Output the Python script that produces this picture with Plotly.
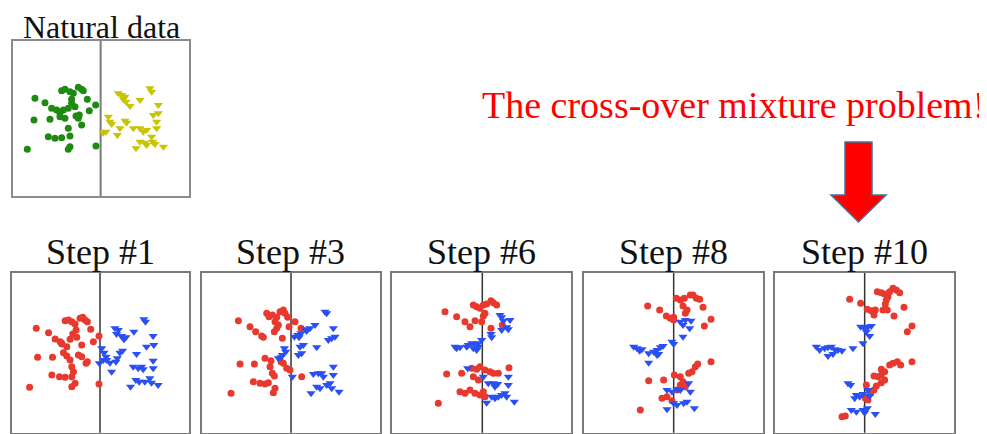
import plotly.graph_objects as go

# ---------------- data (panel units: x left->right, y top->bottom) ----------------
nat_green_x = [105,135,155,170,185,195,210,220,235,245,250,262,215,205,225,238,268,287,102,150,180,195,205,228,235,245,145,165,185,210,210,205,82,288,180,190,215]
nat_green_y = [295,308,325,330,272,268,275,280,262,268,272,298,298,325,320,345,332,315,360,358,350,355,385,348,355,375,410,415,413,408,440,448,448,438,340,330,310]
nat_yellow_x = [355,365,370,378,390,375,420,450,455,475,460,475,325,330,335,318,310,375,380,360,352,400,420,430,440,470,470,455,420,435,440,458,465,490,408]
nat_yellow_y = [280,285,298,305,318,290,300,265,275,315,345,340,350,365,372,395,398,362,368,385,405,385,385,395,390,365,385,410,425,428,435,425,432,440,445]

s1_red_x = [108,145,165,180,185,195,205,215,225,240,248,255,262,272,228,218,210,230,245,280,297,112,157,190,200,210,235,245,258,262,215,220,155,178,195,215,225,215,88,297,185,200]
s1_red_y = [295,308,327,335,342,272,270,275,282,265,262,270,275,298,300,312,328,322,345,335,318,382,382,368,378,390,375,380,400,395,410,425,435,440,442,440,460,470,472,462,340,350]
s1_blue_x = [345,355,350,365,378,372,402,432,437,460,440,462,305,312,318,310,298,360,368,352,348,330,335,410,460,400,415,425,430,460,408,418,435,450,455,475,392,320]
s1_blue_y = [295,300,312,318,322,328,305,268,275,318,350,345,355,368,380,390,400,368,362,385,395,398,425,372,392,410,415,410,418,415,450,455,455,445,458,465,470,390]

s3_red_x = [130,165,182,200,205,215,222,232,245,240,255,265,270,278,245,238,262,250,282,318,135,178,210,228,225,232,238,258,265,275,285,320,175,195,210,220,240,235,108,300]
s3_red_y = [272,290,305,318,322,250,260,255,262,275,245,240,250,262,295,305,325,285,290,295,402,402,385,392,410,430,438,395,400,415,420,440,455,460,462,458,475,488,490,275]
s3_blue_x = [390,395,360,345,330,335,308,298,312,318,415,420,400,410,325,315,365,320,310,272,262,258,250,268,415,355,370,380,385,415,292,365,375,395,405,410,432,348]
s3_blue_y = [245,250,285,295,298,303,315,320,322,310,295,320,330,325,345,350,352,370,375,365,375,382,385,355,410,432,430,430,440,435,440,470,475,465,460,475,485,490]

s6_red_x = [180,215,240,255,265,275,285,295,305,318,325,335,300,295,270,290,318,352,185,230,260,275,285,300,315,325,340,372,225,240,255,270,285,295,300,160,265,280]
s6_red_y = [245,260,275,290,225,230,235,225,222,212,218,225,250,258,272,275,295,285,432,430,415,418,410,420,425,430,430,413,485,490,480,490,495,485,500,520,440,450]
s6_blue_x = [345,350,355,375,370,365,350,318,320,290,280,270,260,250,265,275,245,215,225,210,248,295,310,325,330,338,370,370,320,330,340,350,360,365,305,388,280]
s6_blue_y = [255,262,272,270,298,292,300,312,322,330,340,345,340,345,355,360,350,355,352,350,415,440,460,460,470,462,440,465,500,505,500,495,490,500,518,515,350]

s8_red_x = [212,248,268,280,290,298,310,322,340,348,358,368,378,318,330,325,290,402,382,345,355,362,402,215,260,292,310,318,325,310,300,270,255,285,190,335]
s8_red_y = [228,240,258,265,262,205,210,205,195,195,205,208,232,228,240,250,270,268,288,425,410,402,395,452,450,435,440,455,470,465,480,500,505,512,540,430]
s8_blue_x = [170,180,188,195,215,230,240,250,258,245,215,285,290,310,318,325,342,338,318,270,285,300,310,335,340,290,300,320,330,352,270,240]
s8_blue_y = [350,355,362,358,370,365,360,352,348,372,398,335,342,275,285,270,272,295,320,480,485,478,480,460,485,520,525,520,515,535,538,375]

s10_red_x = [245,278,298,310,318,322,328,340,350,360,365,375,385,395,355,352,358,345,408,378,432,418,365,375,388,398,432,340,350,340,330,318,350,340,325,318,308,295,292,300,222,232]
s10_red_y = [208,220,238,242,255,240,185,188,192,200,185,175,180,188,210,222,240,240,232,258,288,305,405,400,395,405,395,418,425,435,440,438,450,458,468,480,490,465,505,510,560,558]
s10_blue_x = [278,290,300,310,295,305,285,145,155,170,180,190,200,210,222,180,195,255,240,248,265,275,285,305,260,250,265,285,290,298,322,300]
s10_blue_y = [290,295,290,288,305,318,340,350,360,355,352,350,358,360,362,378,372,355,460,465,495,500,492,498,505,540,545,540,548,535,552,480]

panel_titles = ["Natural data", "Step #1", "Step #3", "Step #6", "Step #8", "Step #10"]
headline = "The cross-over mixture problem!"

# ---------------- layout geometry (screen pixels) ----------------
OFF = 8                      # page body margin offset
SW, SH = 987, 434            # screen size
W, H = SW - OFF, SH - OFF    # figure size


def px(x):
    return (x - OFF) / W


def py(y):
    return 1 - (y - OFF) / H


panels = [
    dict(box=(13.3, 189.3, 40.7, 196.0), xr=[40, 568], yr=[588, 122], div=302),
    dict(box=(12.0, 189.0, 272.7, 432.7), xr=[35, 568], yr=[608, 128], div=300),
    dict(box=(201.7, 380.0, 272.7, 432.7), xr=[20, 555], yr=[608, 128], div=288),
    dict(box=(392.3, 571.0, 272.7, 432.7), xr=[22, 558], yr=[608, 128], div=292),
    dict(box=(584.3, 762.7, 272.7, 432.7), xr=[22, 557], yr=[608, 128], div=290),
    dict(box=(775.3, 954.0, 272.7, 432.7), xr=[22, 558], yr=[608, 128], div=290),
]

RED, BLUE = "#e8392e", "#2a4ff5"
series = [
    [(nat_green_x, nat_green_y, "circle", "#1f8a12", 7), (nat_yellow_x, nat_yellow_y, "triangle-down", "#c9c400", 8)],
    [(s1_red_x, s1_red_y, "circle", RED, 7), (s1_blue_x, s1_blue_y, "triangle-down", BLUE, 8)],
    [(s3_red_x, s3_red_y, "circle", RED, 7), (s3_blue_x, s3_blue_y, "triangle-down", BLUE, 8)],
    [(s6_red_x, s6_red_y, "circle", RED, 7), (s6_blue_x, s6_blue_y, "triangle-down", BLUE, 8)],
    [(s8_red_x, s8_red_y, "circle", RED, 7), (s8_blue_x, s8_blue_y, "triangle-down", BLUE, 8)],
    [(s10_red_x, s10_red_y, "circle", RED, 7), (s10_blue_x, s10_blue_y, "triangle-down", BLUE, 8)],
]

fig = go.Figure()
layout = {}
shapes = []
annotations = []

for i, (p, sers) in enumerate(zip(panels, series)):
    n = "" if i == 0 else str(i + 1)
    xa, ya = "x" + n, "y" + n
    l, r, t, b = p["box"]
    natural = (i == 0)
    lc = "#8c8c8c" if natural else "#7a7a7a"
    lw = 2 if natural else 1.5
    layout["xaxis" + n] = dict(domain=[px(l), px(r)], range=p["xr"], anchor=ya,
                               showgrid=False, zeroline=False, showticklabels=False, ticks="",
                               showline=True, mirror=True, linecolor=lc, linewidth=lw, fixedrange=True)
    layout["yaxis" + n] = dict(domain=[py(b), py(t)], range=p["yr"], anchor=xa,
                               showgrid=False, zeroline=False, showticklabels=False, ticks="",
                               showline=True, mirror=True, linecolor=lc, linewidth=lw, fixedrange=True)
    shapes.append(dict(type="line", xref=xa, yref=ya + " domain", x0=p["div"], x1=p["div"], y0=0, y1=1,
                       line=dict(color="#7a7a7a" if natural else "#333333", width=2 if natural else 1.5),
                       layer="below"))
    for xs, ys, sym, col, sz in sers:
        fig.add_trace(go.Scatter(x=xs, y=ys, mode="markers", xaxis=xa, yaxis=ya, showlegend=False,
                                 hoverinfo="skip",
                                 marker=dict(symbol=sym, color=col, size=sz, line=dict(width=0))))
    # panel title
    if natural:
        annotations.append(dict(text=panel_titles[i], xref="paper", yref="paper",
                                x=px((l + r) / 2), y=1.0, xanchor="center", yanchor="top", borderpad=0,
                                showarrow=False, font=dict(family="Liberation Serif", size=32, color="#111111")))
    else:
        annotations.append(dict(text=panel_titles[i], xref="paper", yref="paper",
                                x=px((l + r) / 2), y=py(t + 1.5), xanchor="center", yanchor="bottom",
                                showarrow=False, font=dict(family="Liberation Serif", size=36, color="#111111")))

# headline text
annotations.append(dict(text=headline, xref="paper", yref="paper", x=px(987), y=py(105),
                        xanchor="right", yanchor="middle", showarrow=False,
                        font=dict(family="Liberation Serif", size=38, color="#ff0000")))

# big down arrow (screen pixel outline -> paper)
arrow_px = [(845, 142), (872, 142), (872, 195), (886, 195), (858.5, 222), (831, 195), (845, 195)]
path = "M " + " L ".join(f"{px(x):.5f},{py(y):.5f}" for x, y in arrow_px) + " Z"
shapes.append(dict(type="path", xref="paper", yref="paper", path=path,
                   fillcolor="#ff0000", line=dict(color="#41719c", width=1.5)))

fig.update_layout(width=W, height=H, margin=dict(l=0, r=0, t=0, b=0),
                  paper_bgcolor="white", plot_bgcolor="white",
                  shapes=shapes, annotations=annotations, **layout)

fig.write_html("out.html", config={"displayModeBar": False})
